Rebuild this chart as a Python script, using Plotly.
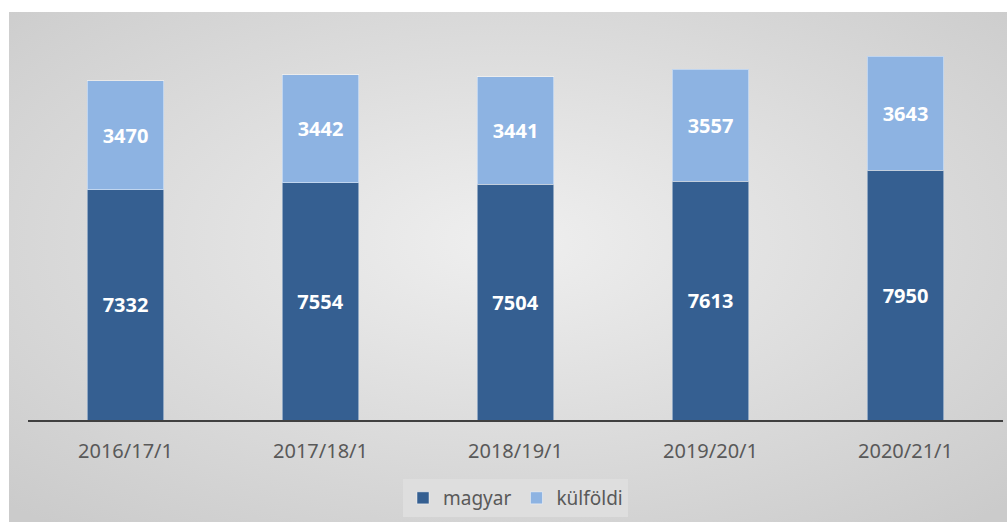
import base64
import plotly.graph_objects as go

categories = ["2016/17/1", "2017/18/1", "2018/19/1", "2019/20/1", "2020/21/1"]
magyar = [7332, 7554, 7504, 7613, 7950]
kulfoldi = [3470, 3442, 3441, 3557, 3643]

W, H = 1007, 522
FONT = "Noto Sans"

svg = (
    "<svg xmlns='http://www.w3.org/2000/svg' width='998' height='510'>"
    "<defs><radialGradient id='g' cx='50%' cy='45%' r='72%'>"
    "<stop offset='0' stop-color='#efefef'/>"
    "<stop offset='1' stop-color='#cbcbcb'/>"
    "</radialGradient></defs>"
    "<rect width='998' height='510' fill='url(#g)'/></svg>"
)
bg_src = "data:image/svg+xml;base64," + base64.b64encode(svg.encode()).decode()


def px_x(x):
    return x / W


def px_y(y):
    return 1 - y / H


label_font = dict(family=FONT, size=20, color="white", weight="bold")

fig = go.Figure()
fig.add_trace(go.Bar(
    name="magyar", x=categories, y=magyar,
    marker=dict(color="#355f91", line=dict(color="rgba(255,255,255,0.45)", width=1)),
    texttemplate="%{y}", textposition="inside", insidetextanchor="middle",
    textangle=0, insidetextfont=label_font,
))
fig.add_trace(go.Bar(
    name="külföldi", x=categories, y=kulfoldi,
    marker=dict(color="#8db3e2", line=dict(color="rgba(255,255,255,0.45)", width=1)),
    texttemplate="%{y}", textposition="inside", insidetextanchor="middle",
    textangle=0, insidetextfont=label_font,
))

fig.update_layout(
    width=W, height=H,
    barmode="stack",
    bargap=0.61,
    margin=dict(l=0, r=0, t=0, b=0),
    paper_bgcolor="white",
    plot_bgcolor="rgba(0,0,0,0)",
    font=dict(family=FONT, color="#595959", size=19),
    showlegend=True,
    legend=dict(
        orientation="h", x=(px_x(403) + px_x(628)) / 2, xanchor="center",
        y=px_y(479), yanchor="top",
        bgcolor="#dedede", font=dict(family=FONT, size=19, color="#595959"),
        traceorder="normal",
    ),
    xaxis=dict(
        domain=[px_x(28), px_x(1003)], type="category",
        showline=True, linecolor="#404040", linewidth=2,
        showgrid=False, zeroline=False, ticks="",
        ticklabelstandoff=12,
        tickfont=dict(family=FONT, size=20, color="#595959"),
    ),
    yaxis=dict(
        domain=[px_y(420), px_y(12)], range=[0, 13000],
        visible=False, showgrid=False, zeroline=False,
    ),
    images=[dict(
        source=bg_src, xref="paper", yref="paper",
        x=px_x(9), y=px_y(12), sizex=1 - px_x(9), sizey=px_y(12),
        xanchor="left", yanchor="top", sizing="stretch", layer="below",
    )],
)

fig.write_html(
    "out.html",
    config={"displayModeBar": False},
    post_script="document.body.style.margin='0px';document.body.style.overflow='hidden';",
)
